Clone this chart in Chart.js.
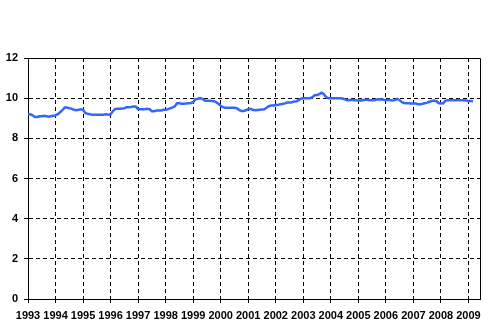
<!DOCTYPE html>
<html>
<head>
<meta charset="utf-8">
<script src="https://cdn.jsdelivr.net/npm/chart.js@4/dist/chart.umd.min.js"></script>
<style>
html,body{margin:0;padding:0;background:#fff;}
#wrap{position:relative;width:497px;height:336px;}
</style>
</head>
<body>
<div id="wrap"><canvas id="c" width="497" height="336"></canvas></div>
<script>
const startYear = 1993;
const yearTicks = [1993,1994,1995,1996,1997,1998,1999,2000,2001,2002,2003,2004,2005,2006,2007,2008,2009];
const yTicks = [0,2,4,6,8,10,12];
// monthly values, Jan 1993 onwards
const values1993_1996 = [
  9.20,9.20,9.15,9.06,9.06,9.10,9.10,9.12,9.10,9.08,9.10,9.12,
  9.15,9.20,9.30,9.40,9.53,9.53,9.50,9.48,9.42,9.40,9.42,9.45,
  9.42,9.25,9.22,9.20,9.18,9.18,9.18,9.18,9.18,9.18,9.20,9.18,
  9.20,9.35,9.46,9.47,9.47,9.48,9.50,9.55,9.55,9.56,9.58,9.58
];
const values1997_2000 = [
  9.45,9.45,9.45,9.45,9.47,9.45,9.35,9.35,9.38,9.38,9.38,9.42,
  9.42,9.45,9.50,9.53,9.60,9.75,9.75,9.72,9.72,9.74,9.75,9.76,
  9.80,9.95,9.97,10.00,9.97,9.88,9.87,9.87,9.86,9.85,9.80,9.72,
  9.62,9.55,9.52,9.52,9.52,9.52,9.52,9.50,9.42,9.36,9.36,9.40
];
const values2001_2004 = [
  9.45,9.47,9.42,9.40,9.41,9.42,9.43,9.45,9.52,9.60,9.63,9.64,
  9.66,9.66,9.70,9.71,9.74,9.78,9.78,9.80,9.83,9.85,9.90,9.97,
  10.00,10.00,10.00,10.00,10.05,10.15,10.16,10.20,10.27,10.20,10.05,10.00,
  10.00,10.00,10.00,10.00,10.00,9.98,9.95,9.90,9.90,9.92,9.90,9.90
];
const values2005_2009 = [
  9.88,9.88,9.90,9.92,9.92,9.90,9.90,9.90,9.93,9.95,9.93,9.92,
  9.90,9.92,9.90,9.88,9.90,9.96,9.90,9.80,9.76,9.75,9.75,9.74,
  9.74,9.73,9.70,9.70,9.72,9.75,9.78,9.82,9.86,9.88,9.85,9.76,
  9.74,9.75,9.88,9.90,9.90,9.90,9.90,9.90,9.90,9.90,9.90,9.88,
  9.86,9.86,9.85
];
const monthlyValues = [].concat(values1993_1996, values1997_2000, values2001_2004, values2005_2009);
const points = monthlyValues.map((v,i)=>({x: startYear + i/12, y: v}));

const frame = {
  id:'frame',
  afterDatasetsDraw(chart){
    const {ctx, chartArea:a} = chart;
    ctx.save();
    ctx.strokeStyle='#000';
    ctx.lineWidth=1;
    ctx.beginPath();
    ctx.moveTo(a.left, Math.round(a.top)+0.5);
    ctx.lineTo(Math.round(a.right)+0.5, Math.round(a.top)+0.5);
    ctx.lineTo(Math.round(a.right)+0.5, a.bottom);
    ctx.stroke();
    ctx.restore();
  }
};

const font = {family:'"Liberation Sans", Arial, sans-serif', size:11, weight:'bold'};

new Chart(document.getElementById('c'), {
  type:'line',
  data:{datasets:[{
    data: points,
    borderColor:'#3366ff',
    borderWidth:2.5,
    pointRadius:0,
    tension:0,
    fill:false
  }]},
  options:{
    responsive:false,
    animation:false,
    parsing:true,
    layout:{padding:{top:58,right:17,left:0,bottom:0}},
    plugins:{legend:{display:false},tooltip:{enabled:false}},
    scales:{
      x:{
        type:'linear',
        min:1993, max:2009.42,
        afterFit(s){ s.height = 37; },
        afterBuildTicks(s){ s.ticks = yearTicks.map(v=>({value:v})); },
        ticks:{
          autoSkip:false, maxRotation:0, minRotation:0, includeBounds:false,
          color:'#000', font, padding:6,
          callback:(v)=>String(v)
        },
        grid:{color:'#000', lineWidth:1, tickLength:4, tickColor:'#000', drawTicks:true},
        border:{display:true, color:'#000', width:1, dash:[4,3]}
      },
      y:{
        min:0, max:12,
        afterFit(s){ s.width = 28; },
        afterBuildTicks(s){ s.ticks = yTicks.map(v=>({value:v})); },
        ticks:{color:'#000', font, padding:6},
        grid:{color:'#000', lineWidth:1, tickLength:4, tickColor:'#000'},
        border:{display:true, color:'#000', width:1, dash:[4,3]}
      }
    }
  },
  plugins:[frame]
});
</script>
</body>
</html>
